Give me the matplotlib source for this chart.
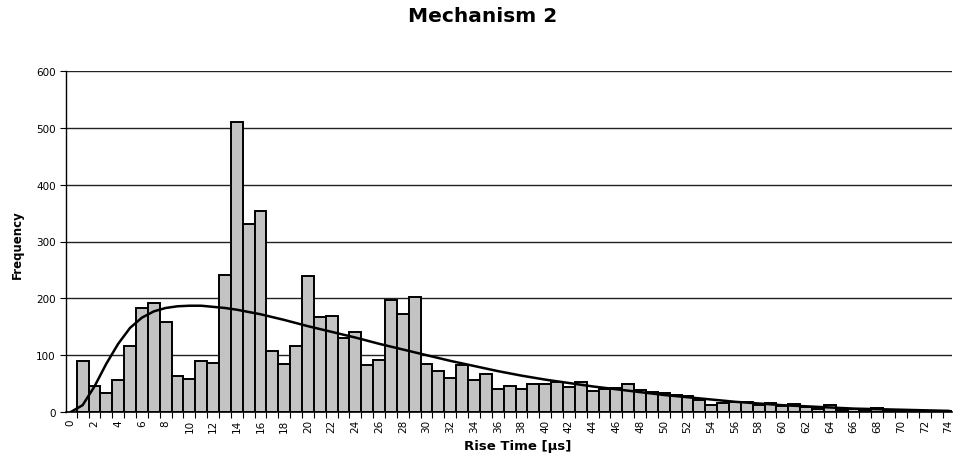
import numpy as np
import matplotlib.pyplot as plt

# histogram of rise times, bins 1..74 us
rise_time = np.arange(1, 75)
counts = [90, 46, 34, 56, 116, 183, 192, 159, 64, 58,
          89, 86, 241, 511, 331, 353, 107, 84, 116, 239,
          167, 169, 130, 140, 82, 92, 197, 172, 203, 85,
          72, 60, 82, 56, 66, 40, 45, 41, 49, 50,
          52, 44, 52, 37, 40, 42, 50, 38, 36, 33,
          30, 28, 21, 13, 16, 18, 18, 12, 15, 10,
          14, 8, 5, 12, 3, 5, 2, 7, 3, 3,
          0, 0, 0, 2]

# fitted distribution curve
fit_x = [0, 1, 2, 3, 4, 5, 6, 7, 8, 9, 10, 11, 12, 13, 14, 16, 18, 20, 22, 24,
         26, 28, 30, 32, 34, 36, 38, 40, 42, 44, 46, 48, 50, 52, 54, 56, 58, 60,
         62, 64, 66, 68, 70, 72, 74]
fit_y = [0, 12, 45, 85, 120, 148, 166, 177, 183, 186, 187, 187, 185, 183, 180,
         172, 162, 151, 141, 131, 120, 110, 100, 90, 81, 72, 64, 57, 51, 45, 40,
         35, 30, 26, 22, 18, 15, 12, 10, 8, 6, 5, 4, 3, 2]

fig = plt.figure(figsize=(9.54, 4.56), dpi=100)
ax = fig.add_axes([66/954, 43/456, 886/954, 341/456])

ax.bar(rise_time, counts, width=1.0, color='#c3c3c3', edgecolor='black',
       linewidth=1.4, zorder=2)
ax.plot(fit_x, fit_y, color='black', linewidth=1.8, zorder=3)

ax.set_xlim(-0.4, 74.3)
ax.set_ylim(0, 600)
ax.set_yticks(np.arange(0, 601, 100))
ax.yaxis.grid(True, color='#222222', linewidth=1.0, zorder=0)
ax.set_axisbelow(True)

ax.set_xticks(np.arange(0, 75, 2))
ax.set_xticks(np.arange(0.5, 74, 1), minor=True)
ax.tick_params(axis='x', which='major', length=0, pad=5, labelrotation=90,
               labelsize=7.5, labelcolor='black')
ax.tick_params(axis='x', which='minor', length=4, width=0.8, direction='out')
ax.tick_params(axis='y', length=4, width=0.8, labelsize=7.5, labelcolor='black')

for s in ['top', 'right']:
    ax.spines[s].set_visible(False)
ax.spines['left'].set_linewidth(1.0)
ax.spines['bottom'].set_linewidth(1.2)

fig.text(483/954, 1 - 17/456, 'Mechanism 2', ha='center', va='center',
         fontsize=14.5, fontweight='bold', family='DejaVu Sans')
fig.text(17/954, 1 - 245/456, 'Frequency', ha='center', va='center',
         rotation=90, fontsize=8.5, fontweight='bold', family='DejaVu Sans')
fig.text(518/954, 1 - 447/456, 'Rise Time [\u00b5s]', ha='center', va='center',
         fontsize=9.5, fontweight='bold', family='DejaVu Sans')

fig.savefig('out.png', dpi=100)
